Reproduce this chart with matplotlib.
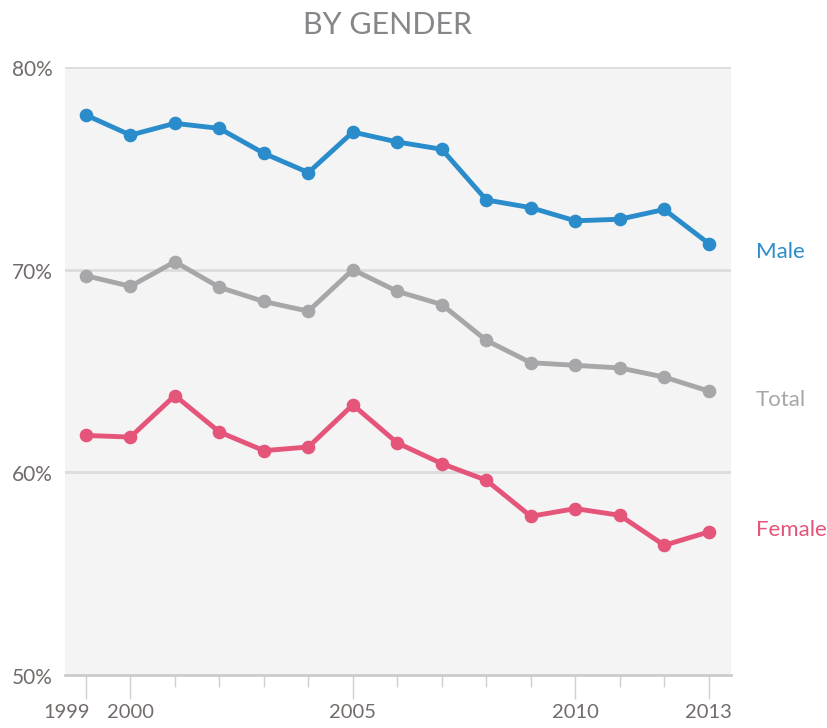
import matplotlib
matplotlib.use("Agg")
import matplotlib.pyplot as plt
from matplotlib.transforms import ScaledTranslation

years = list(range(1999, 2014))
male = [77.63, 76.64, 77.22, 76.97, 75.74, 74.79, 76.79, 76.30, 75.94, 73.44, 73.06, 72.41, 72.49, 72.97, 71.29]
total = [69.70, 69.18, 70.39, 69.13, 68.43, 67.95, 70.00, 68.93, 68.28, 66.51, 65.41, 65.28, 65.15, 64.70, 64.01]
female = [61.82, 61.74, 63.79, 61.99, 61.07, 61.25, 63.33, 61.45, 60.43, 59.61, 57.83, 58.21, 57.88, 56.40, 57.06]
series_names = ["Male", "Total", "Female"]
colors = ["#2a8ccb", "#a7a7aa", "#e5557a"]
label_dy_px = [-8, -9, 2]   # style: vertical nudge of end labels
yticks = [50, 60, 70, 80]
ytick_labels = ["50%", "60%", "70%", "80%"]
major_years = [1999, 2000, 2005, 2010, 2013]

plt.rcParams['font.family'] = ['Lato', 'DejaVu Sans']

fig = plt.figure(figsize=(8.28, 7.28), dpi=100)
ax = fig.add_axes([65/828, 1-675/728, (731-65)/828, (675-67)/728])
ax.set_facecolor("#f4f4f4")
ax.set_xlim(1998.53, 2013.5)
ax.set_ylim(50, 80)

for y in [60, 70, 80]:
    ax.axhline(y, color="#dcdcdc", lw=2, zorder=1)

for vals, c, name, dy in zip([male, total, female], colors, series_names, label_dy_px):
    ax.plot(years, vals, color=c, lw=3.5, marker="o", ms=8.8, zorder=3, solid_capstyle="round")
    ax.annotate(name, xy=(years[-1], vals[-1]), xytext=(47*0.72, dy*0.72), textcoords="offset points",
                color=c, fontsize=16, va="center", ha="left", annotation_clip=False)

for s in ["top", "right", "left"]:
    ax.spines[s].set_visible(False)
ax.spines["bottom"].set_color("#cccccc")
ax.spines["bottom"].set_linewidth(2)

ax.set_yticks(yticks)
ax.set_yticklabels(ytick_labels)
ax.tick_params(axis="y", length=0, pad=9, labelsize=15, labelcolor="#716c6a")
for lbl in ax.get_yticklabels():
    lbl.set_verticalalignment("center")
    lbl.set_transform(lbl.get_transform() + ScaledTranslation(0, -3/100, fig.dpi_scale_trans))

ax.set_xticks(major_years)
ax.set_xticklabels([str(y) for y in major_years])
ax.set_xticks(years, minor=True)
ax.tick_params(axis="x", which="major", length=17, width=1, color="#d0d0d0", pad=4,
               labelsize=14.5, labelcolor="#716c6a")
ax.tick_params(axis="x", which="minor", length=8.5, width=1, color="#d0d0d0")
labels = ax.get_xticklabels()
labels[0].set_transform(labels[0].get_transform() + ScaledTranslation(-19/100, 0, fig.dpi_scale_trans))

fig.text(388/828, 1-25/728, "BY GENDER", ha="center", va="center", fontsize=22, color="#87868a")

fig.savefig("out.png", dpi=100)
